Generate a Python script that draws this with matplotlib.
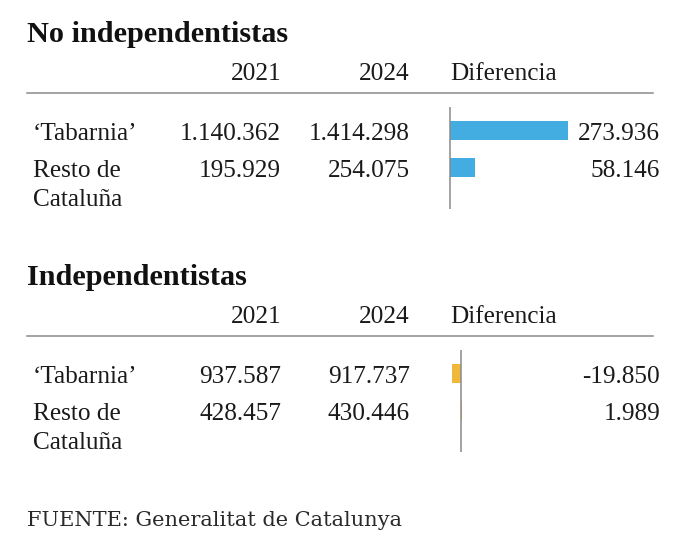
import matplotlib
matplotlib.use("Agg")
import matplotlib.pyplot as plt

# --- datos ---
regiones = ["\u2018Tabarnia\u2019", "Resto de\nCataluña"]
no_indep_2021 = [1140362, 195929]
no_indep_2024 = [1414298, 254075]
indep_2021 = [937587, 428457]
indep_2024 = [917737, 430446]
anios = ["2021", "2024"]

W, H = 688, 543
SERIF = "Liberation Serif"
AZUL = "#43ade2"
AMARILLO = "#f0b83a"
GRIS = "#8a8a8a"
ESCALA = 4.3e-4  # px por voto


def fmt(n):
    s = f"{abs(n):,}".replace(",", ".")
    return ("-" if n < 0 else "") + s


def fx(px):
    return px / W


def fy(py):
    return 1 - py / H


def texto(fig, x, y, s, **kw):
    kw.setdefault("family", SERIF)
    kw.setdefault("size", 18.2)
    kw.setdefault("color", "#1a1a1a")
    fig.text(fx(x), fy(y), s, va="baseline", **kw)


def seccion(fig, y0, titulo, v21, v24, color, x_cero):
    # y0: línea base del título
    texto(fig, 27, y0, titulo, size=21.8, weight="bold", color="#111111")
    texto(fig, 281, y0 + 38, anios[0], ha="right")
    texto(fig, 410, y0 + 38, anios[1], ha="right")
    texto(fig, 450, y0 + 38, "Diferencia")
    fig.add_artist(plt.Line2D([fx(27), fx(653)], [fy(y0 + 51)] * 2,
                              color=GRIS, lw=1.1, transform=fig.transFigure))

    difs = [b - a for a, b in zip(v21, v24)]
    base = y0 + 98  # línea base de la primera fila
    for i, reg in enumerate(regiones):
        yb = base + 37 * i
        for j, ln in enumerate(reg.split("\n")):
            texto(fig, 33, yb + 29 * j, ln)
        texto(fig, 281, yb, fmt(v21[i]), ha="right")
        texto(fig, 410, yb, fmt(v24[i]), ha="right")
        texto(fig, 660, yb, fmt(difs[i]), ha="right")

    # barras
    top, bot = y0 + 65, y0 + 167
    centro0 = base - 9.5
    ax = fig.add_axes([fx(440), fy(bot), fx(660) - fx(440), (bot - top) / H])
    ax.barh(range(len(difs)), difs, height=19 / 37, color=color)
    ax.axvline(0, color=GRIS, lw=1.1)
    ax.set_xlim(-(x_cero - 440) / ESCALA, (660 - x_cero) / ESCALA)
    ax.set_ylim((bot - centro0) / 37, (top - centro0) / 37)
    ax.axis("off")


fig = plt.figure(figsize=(W / 100, H / 100), dpi=100)
fig.patch.set_facecolor("white")

seccion(fig, 42, "No independentistas", no_indep_2021, no_indep_2024, AZUL, 450)
seccion(fig, 285, "Independentistas", indep_2021, indep_2024, AMARILLO, 461)

texto(fig, 27, 526, "FUENTE: Generalitat de Catalunya", size=15.0,
      family="DejaVu Serif", color="#2a2a2a")

fig.savefig("out.png", dpi=100, facecolor="white")
